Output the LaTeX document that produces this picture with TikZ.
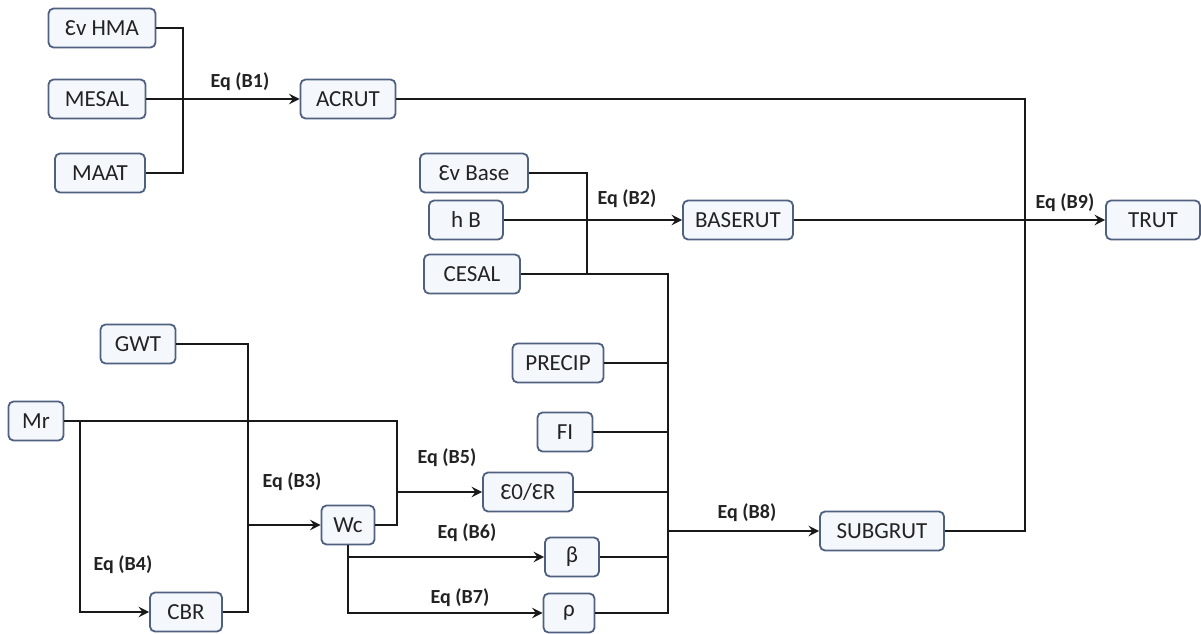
\documentclass[tikz,border=0pt]{standalone}
\usepackage{fontspec}
\setmainfont{Carlito}
\usepackage{tikz}
\usetikzlibrary{arrows,shapes,positioning}
\usepackage{xcolor}
\definecolor{rutborder}{RGB}{80,96,128}
\definecolor{rutfill}{RGB}{244,248,252}
\definecolor{ruttext}{RGB}{35,35,35}
\definecolor{rutline}{RGB}{25,25,25}
\tikzstyle{line} = [line width=1.3pt, color=rutline]
\tikzstyle{arrow} = [line width=1.3pt, ->, >=stealth, color=rutline]
\tikzstyle{input} = [rectangle, rounded corners=2.5pt, minimum height=19.5pt, inner sep=2pt, text centered, draw=rutborder, fill=rutfill, line width=0.9pt, text=ruttext, font=\fontsize{11.5}{13}\selectfont]
\tikzstyle{eqlabel} = [font=\bfseries\fontsize{10}{12}\selectfont, text=ruttext, inner sep=1pt]

\begin{document}
\begin{tikzpicture}[x=0.5pt, y=-0.5pt]
\useasboundingbox (0,0) rectangle (1201,633);

% Asphalt layer
\node (evhma) [input, minimum width=53.5pt] at (102,28) {Ɛv HMA};
\node (mesal) [input, minimum width=48.5pt] at (97,99) {MESAL};
\node (maat) [input, minimum width=45pt] at (100,173) {MAAT};
\node (acrut) [input, minimum width=47.5pt] at (348,99) {ACRUT};

% Base layer
\node (evbase) [input, minimum width=54pt] at (474,173) {Ɛv Base};
\node (hb) [input, minimum width=37pt] at (466,220) {h B};
\node (cesal) [input, minimum width=48pt] at (472,274) {CESAL};
\node (baserut) [input, minimum width=55pt] at (738,220) {BASERUT};

% Subgrade
\node (gwt) [input, minimum width=37.5pt] at (138,344) {GWT};
\node (mr) [input, minimum width=27.5pt] at (36,421) {Mr};
\node (cbr) [input, minimum width=36pt] at (186,612) {CBR};
\node (wc) [input, minimum width=26.5pt] at (348,525) {Wc};
\node (precip) [input, minimum width=45.5pt] at (558,363) {PRECIP};
\node (fi) [input, minimum width=27.5pt] at (565,432) {FI};
\node (e0er) [input, minimum width=45pt] at (528,492) {Ɛ0/ƐR};
\node (beta) [input, minimum width=27pt] at (572,557) {β};
\node (rho) [input, minimum width=25.5pt] at (569,613) {ρ};
\node (subgrut) [input, minimum width=62pt] at (882,531) {SUBGRUT};

% Total
\node (trut) [input, minimum width=47pt] at (1153,220) {TRUT};

% Junctions
\coordinate (j1) at (183,99);
\coordinate (j2) at (587,220);
\coordinate (j3) at (248,525);
\coordinate (j4) at (80,421);
\coordinate (j5) at (397,492);
\coordinate (j8) at (668,531);
\coordinate (j9) at (1025,220);

% Labels
\node (lb1) [eqlabel] at (240,82) {Eq (B1)};
\node (lb2) [eqlabel] at (627,199) {Eq (B2)};
\node (lb3) [eqlabel] at (292,482) {Eq (B3)};
\node (lb4) [eqlabel] at (123,565) {Eq (B4)};
\node (lb5) [eqlabel] at (447,458) {Eq (B5)};
\node (lb6) [eqlabel] at (467,533) {Eq (B6)};
\node (lb7) [eqlabel] at (460,598) {Eq (B7)};
\node (lb8) [eqlabel] at (747,513) {Eq (B8)};
\node (lb9) [eqlabel] at (1065,203) {Eq (B9)};

% Connectors
\draw[line] (evhma) -| (j1) |- (maat);
\draw[arrow] (mesal) -- (acrut);
\draw[line] (acrut) -| (j9) |- (subgrut);
\draw[arrow] (baserut) -- (trut);

\draw[line] (evbase) -| (j2) |- (cesal);
\draw[arrow] (hb) -- (baserut);
\draw[line] (cesal) -| (j8) |- (rho);
\draw[line] (precip) -- (precip -| j8);
\draw[line] (fi) -- (fi -| j8);
\draw[line] (e0er) -- (e0er -| j8);
\draw[line] (beta) -- (beta -| j8);
\draw[arrow] (j8) -- (subgrut);

\draw[line] (gwt) -| (j3) |- (cbr);
\draw[arrow] (j3) -- (wc);
\draw[line] (mr) -| (j5) |- (wc);
\draw[arrow] (j5) -- (e0er);
\draw[arrow] (j4) |- (cbr);
\draw[arrow] (wc) |- (beta);
\draw[arrow] (wc) |- (rho);
\end{tikzpicture}
\end{document}
